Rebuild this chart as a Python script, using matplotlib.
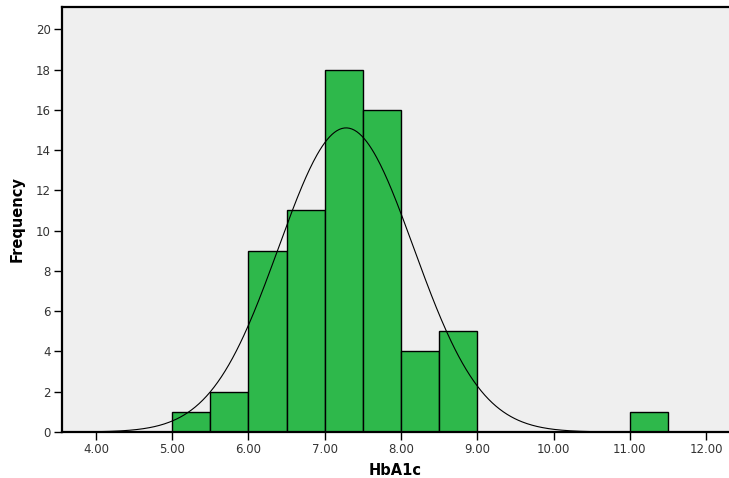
import numpy as np
import matplotlib.pyplot as plt

# HbA1c histogram, bins of 0.5
bin_left = [5.0, 5.5, 6.0, 6.5, 7.0, 7.5, 8.0, 8.5, 11.0]
counts = [1, 2, 9, 11, 18, 16, 4, 5, 1]
bin_width = 0.5

# fitted normal curve
mean_hba1c = 7.28
sd_hba1c = 0.885
n_total = sum(counts)

xticks = [4, 5, 6, 7, 8, 9, 10, 11, 12]
yticks = [0, 2, 4, 6, 8, 10, 12, 14, 16, 18, 20]

fig = plt.figure(figsize=(7.29, 4.78), dpi=100)
ax = fig.add_axes([0.085, 0.0962, 0.915, 0.889])
ax.set_facecolor('#efefef')

ax.bar(bin_left, counts, width=bin_width, align='edge', color='#2eb84b',
       edgecolor='black', linewidth=1.0, zorder=2)

xs = np.linspace(4.0, 10.5, 400)
ys = n_total * bin_width * np.exp(-0.5 * ((xs - mean_hba1c) / sd_hba1c) ** 2) / (sd_hba1c * np.sqrt(2 * np.pi))
ax.plot(xs, ys, color='black', linewidth=0.8, zorder=3)

ax.set_xlim(3.555, 12.3)
ax.set_ylim(0, 21.1)
ax.set_xticks(xticks)
ax.set_xticklabels(['%.2f' % v for v in xticks])
ax.set_yticks(yticks)

for side in ['top', 'left', 'bottom']:
    ax.spines[side].set_linewidth(1.6)
ax.spines['right'].set_visible(False)

ax.tick_params(axis='both', direction='out', length=6, width=1.0, labelsize=8.5,
               labelcolor='#333333', pad=2)

ax.set_xlabel('HbA1c', fontsize=10.5, fontweight='bold', labelpad=5)
ax.set_ylabel('Frequency', fontsize=10.5, fontweight='bold', labelpad=8)

fig.savefig('out.png', dpi=100)
